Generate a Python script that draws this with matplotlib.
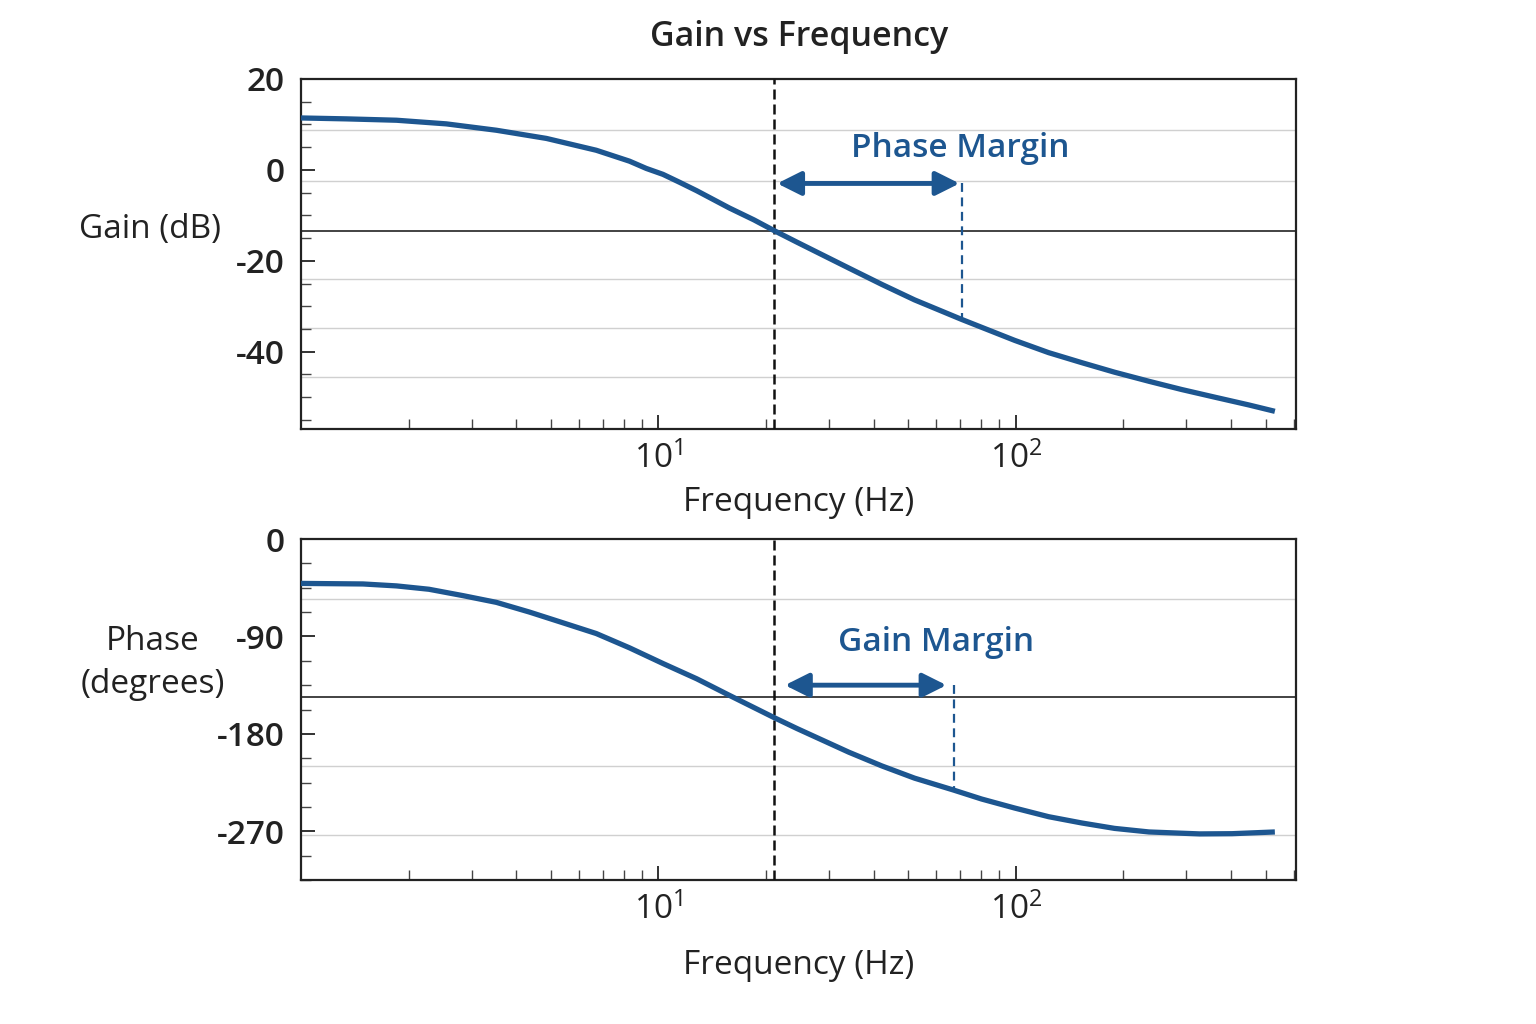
import numpy as np
import matplotlib
matplotlib.use("Agg")
import matplotlib.pyplot as plt
from matplotlib.ticker import MultipleLocator, FixedLocator, LogLocator, NullFormatter

plt.rcParams['font.family'] = ['Open Sans', 'DejaVu Sans']
plt.rcParams['mathtext.fontset'] = 'custom'
plt.rcParams['mathtext.rm'] = 'Open Sans'
plt.rcParams['mathtext.it'] = 'Open Sans'
plt.rcParams['axes.unicode_minus'] = False

# values
freq_gain = [1.0, 1.34, 1.85, 2.55, 3.52, 4.86, 6.70, 8.3, 9.25, 10.3, 11.5, 12.8, 14.3,
             15.8, 18.5, 21.0, 24.4, 34.1, 42.2, 52.1, 70.6, 99.3, 123.6, 153, 189,
             236, 291, 361, 449, 531]
gain_db = [11.4, 11.2, 10.9, 10.1, 8.7, 6.9, 4.3, 1.9, 0.3, -1.0, -2.8, -4.6, -6.6,
           -8.4, -11.0, -13.3, -15.9, -21.6, -25.2, -28.6, -32.9, -37.5, -40.2, -42.4, -44.5,
           -46.5, -48.3, -50.0, -51.7, -53.1]

freq_phase = [1.0, 1.49, 1.85, 2.28, 2.84, 3.52, 4.36, 5.42, 6.70, 8.3, 10.3, 12.8, 15.8,
              21.0, 24.4, 34.1, 42.2, 52.1, 67.0, 80.3, 99.3, 123.6, 153, 189, 236,
              327, 403, 531]
phase_deg = [-41.0, -41.5, -43.3, -46.4, -52.3, -58.5, -67.5, -77.5, -87.3, -100.5, -115.0,
             -129.1, -144.4, -164.7, -175.0, -196.9, -209.6, -220.9, -231.9, -240.2, -248.5,
             -256.5, -262.3, -267.3, -270.6, -272.4, -272.2, -270.6]

crossover_hz = 21.0
gain_ref_db = -13.5
phase_ref_deg = -146
gain_grid = [8.7, -2.5, -24.0, -34.7, -45.6]
phase_grid = [-55, -210, -273]

pm_arrow = (21.5, 69.6, -3.0)      # x from, x to, y
pm_drop = (70.6, -3.0, -32.9)      # x, y top, y bottom
gm_arrow = (22.6, 64.0, -135)
gm_drop = (67.0, -135, -232)

gain_ticks = [20, 0, -20, -40]
phase_ticks = [0, -90, -180, -270]
freq_ticks = [10, 100]
freq_labels = [r'$10^{1}$', r'$10^{2}$']

blue = '#1d5690'
dark = '#222222'

fig = plt.figure(figsize=(15.36, 10.24), dpi=100)
ax1 = fig.add_axes([0.196, 0.581, 0.648, 0.342])
ax2 = fig.add_axes([0.196, 0.1406, 0.648, 0.333])

def style(ax, yticks, ylim, yminor, xpad):
    ax.set_xscale('log')
    ax.set_xlim(1.0, 610)
    ax.set_ylim(*ylim)
    ax.set_yticks(yticks)
    ax.yaxis.set_minor_locator(MultipleLocator(yminor))
    ax.xaxis.set_major_locator(FixedLocator(freq_ticks))
    ax.set_xticklabels(freq_labels)
    ax.xaxis.set_minor_locator(LogLocator(base=10, subs=np.arange(2, 10)))
    ax.xaxis.set_minor_formatter(NullFormatter())
    ax.tick_params(axis='both', which='major', direction='in', length=10, width=1.3,
                   color=dark, labelsize=24, labelcolor=dark, pad=12)
    ax.tick_params(axis='both', which='minor', direction='in', length=7, width=1.0, color='#444444')
    ax.tick_params(axis='x', which='major', pad=9)
    for lab in ax.get_yticklabels():
        lab.set_fontweight('semibold')
    for s in ax.spines.values():
        s.set_linewidth(1.6)
        s.set_color(dark)
    ax.set_xlabel('Frequency (Hz)', fontsize=24, fontweight='medium', color=dark, labelpad=xpad)

style(ax1, gain_ticks, (-57, 20), 5, 8)
style(ax2, phase_ticks, (-315, 0), 22.5, 16)

for g in gain_grid:
    ax1.axhline(g, color='#d0d0d0', lw=1.0, zorder=1)
for g in phase_grid:
    ax2.axhline(g, color='#d0d0d0', lw=1.0, zorder=1)
ax1.axhline(gain_ref_db, color=dark, lw=1.2, zorder=2)
ax2.axhline(phase_ref_deg, color=dark, lw=1.2, zorder=2)

for ax in (ax1, ax2):
    ax.axvline(crossover_hz, color='#111111', lw=1.8, ls=(0, (4, 2)), zorder=3)

ax1.plot(freq_gain, gain_db, color=blue, lw=3.8, solid_joinstyle='round',
         solid_capstyle='butt', zorder=4)
ax2.plot(freq_phase, phase_deg, color=blue, lw=3.8, solid_joinstyle='round',
         solid_capstyle='butt', zorder=4)

def margin(ax, arrow, drop, label, label_xy):
    ax.annotate('', xy=(arrow[1], arrow[2]), xytext=(arrow[0], arrow[2]),
                arrowprops=dict(arrowstyle='<|-|>', color=blue, lw=3.5,
                                mutation_scale=36, shrinkA=0, shrinkB=0), zorder=5)
    ax.plot([drop[0], drop[0]], [drop[1], drop[2]], color=blue, lw=1.6,
            ls=(0, (4, 2.5)), zorder=5)
    ax.text(label_xy[0], label_xy[1], label, color=blue, fontsize=24,
            fontweight='semibold', ha='center', va='center', zorder=6)

margin(ax1, pm_arrow, pm_drop, 'Phase Margin', (69.8, 4.7))
margin(ax2, gm_arrow, gm_drop, 'Gain Margin', (59.7, -95.6))

ax1.set_ylabel('Gain (dB)', rotation=0, fontsize=24, fontweight='medium', color=dark,
               ha='center', va='center')
ax1.yaxis.set_label_coords(-0.152, 0.569)
ax2.set_ylabel('Phase\n(degrees)', rotation=0, fontsize=24, fontweight='medium', color=dark,
               ha='center', va='center', linespacing=1.4)
ax2.yaxis.set_label_coords(-0.149, 0.635)

ax1.set_title('Gain vs Frequency', fontsize=24.5, fontweight='semibold', color=dark, pad=24)

fig.savefig('out.png', dpi=100, facecolor='white')
